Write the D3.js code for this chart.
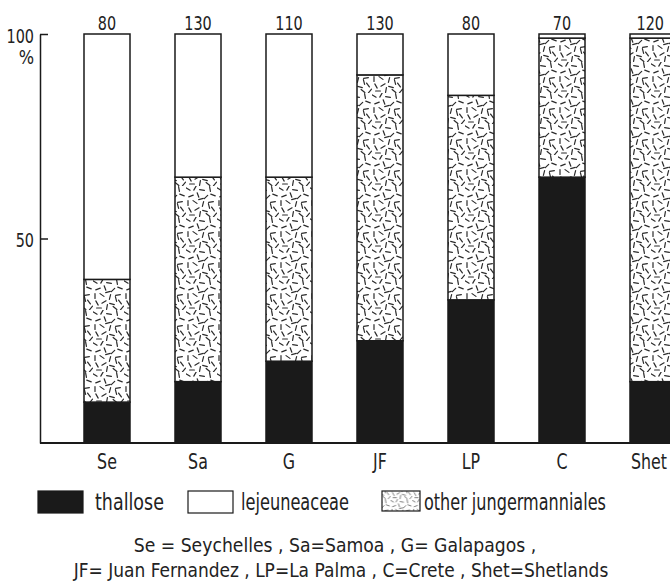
<!DOCTYPE html>
<html><head><meta charset="utf-8">
<script src="https://cdn.jsdelivr.net/npm/d3@7/dist/d3.min.js"></script>
<style>
html,body{margin:0;padding:0;background:#fff;}
svg text{font-family:"DejaVu Sans",sans-serif;fill:#222;}
</style></head>
<body><svg id="c" width="670" height="582"></svg>
<script>
const categories = ["Se","Sa","G","JF","LP","C","Shet"];
const sampleSizes = [80,130,110,130,80,70,120];
const thallose = [10,15,20,25,35,65,15];
const otherJung = [30,50,45,65,50,34,84];
const lejeuneaceae = [60,35,35,10,15,1,1];
const yTicks = [50,100];
const legendLabels = ["thallose","lejeuneaceae","other jungermanniales"];
const footnotes = ["Se = Seychelles  ,  Sa=Samoa  ,  G= Galapagos ,",
                   "JF= Juan Fernandez , LP=La Palma , C=Crete , Shet=Shetlands"];

const svg = d3.select("#c");
const ink = "#1a1a1a";

// condensed lettering: shrink the font, then stretch it back vertically.
// c = number (width factor) or {w: target width}
function tall(sel, F, c){
  sel.each(function(){
    const t = d3.select(this);
    t.attr("font-size", F);
    let k = c;
    if (typeof c === "object") k = c.w / this.getComputedTextLength();
    t.attr("font-size", F*k);
    const x0 = +(t.attr("x")||0), y0 = +(t.attr("y")||0);
    t.attr("transform", `translate(${x0},${y0}) scale(1,${1/k}) translate(${-x0},${-y0})`);
  });
}
// keep centred text inside the right edge
function keepInside(sel, maxX){
  sel.each(function(){
    const t = d3.select(this);
    const half = this.getComputedTextLength()/2;
    const cx = +t.attr("x");
    if (cx + half > maxX){
      const nx = maxX - half, y0 = +t.attr("y");
      const tr = t.attr("transform").replace(/translate\([^)]*\)/g, (m,i)=>m);
      t.attr("x", nx);
      const k = tr.match(/scale\(1,([^)]*)\)/)[1];
      t.attr("transform", `translate(${nx},${y0}) scale(1,${k}) translate(${-nx},${-y0})`);
    }
  });
}

// texture pattern for "other jungermanniales"
const dashes = [[2,3,30],[9,2,-60],[16,4,10],[24,3,80],[5,10,-20],[12,9,70],[20,11,-45],[27,9,20],
  [2,17,90],[9,16,35],[17,18,-75],[25,16,-10],[4,24,60],[11,23,-30],[19,25,15],[27,23,55],
  [6,29,0],[14,28,-80],[22,29,40],[29,29,-50],[15,13,-15],[23,20,75]];
const defs = svg.append("defs");
function makePattern(id, scale, col){
  const p = defs.append("pattern").attr("id",id).attr("patternUnits","userSpaceOnUse")
    .attr("width",31).attr("height",31).attr("patternTransform","scale("+scale+")");
  p.append("rect").attr("width",31).attr("height",31).attr("fill","#fff");
  const L = 2.4;
  p.selectAll("line").data(dashes).join("line")
    .attr("x1",d=>d[0]-L*Math.cos(d[2]*Math.PI/180)).attr("y1",d=>d[1]-L*Math.sin(d[2]*Math.PI/180))
    .attr("x2",d=>d[0]+L*Math.cos(d[2]*Math.PI/180)).attr("y2",d=>d[1]+L*Math.sin(d[2]*Math.PI/180))
    .attr("stroke",col).attr("stroke-width",1.2).attr("stroke-linecap","round");
}
makePattern("dots",1,"#2a2a2a");
makePattern("dots2",0.7,"#666");

const x = d3.scaleBand().domain(categories).range([39, 721]).paddingInner(0.4945).paddingOuter(0.4945);
const y = d3.scaleLinear().domain([0,100]).range([443, 34]);

// stacked data
const rows = categories.map((c,i)=>({cat:c, thallose:thallose[i], other:otherJung[i], lej:lejeuneaceae[i]}));
const stack = d3.stack().keys(["thallose","other","lej"])(rows);
const fills = {thallose:ink, other:"url(#dots)", lej:"#fff"};

const g = svg.append("g");
stack.forEach(layer=>{
  g.selectAll(null).data(layer).join("rect")
    .attr("x",d=>x(d.data.cat)).attr("width",x.bandwidth())
    .attr("y",d=>y(d[1])).attr("height",d=>y(d[0])-y(d[1]))
    .attr("fill",fills[layer.key]).attr("stroke",ink).attr("stroke-width",1.5);
});

// sample size labels
const nl = svg.selectAll(".n").data(categories).join("text")
  .attr("x",d=>x(d)+x.bandwidth()/2).attr("y",30)
  .attr("text-anchor","middle").text((d,i)=>sampleSizes[i]);
tall(nl,20,0.72);
keepInside(nl,664);

// y axis
const yAxis = d3.axisLeft(y).tickValues(yTicks).tickSizeInner(-8).tickSizeOuter(0).tickPadding(6);
const ya = svg.append("g").attr("transform","translate(40,0)").call(yAxis);
ya.select(".domain").attr("stroke",ink).attr("stroke-width",1.5);
ya.selectAll(".tick line").attr("stroke",ink).attr("stroke-width",1.5);
const yt = ya.selectAll(".tick text").attr("fill","#222")
  .style("font-family",'"DejaVu Sans",sans-serif').attr("dy",null).attr("y",8);
tall(yt,20,0.72);
const pct = svg.append("text").attr("x",34).attr("y",64).attr("text-anchor","end").text("%");
tall(pct,19,0.85);

// baseline
svg.append("line").attr("x1",40).attr("x2",670).attr("y1",y(0)).attr("y2",y(0))
  .attr("stroke",ink).attr("stroke-width",1.8);

// category labels
const cl = svg.selectAll(".cat").data(categories).join("text")
  .attr("x",d=>x(d)+x.bandwidth()/2).attr("y",469)
  .attr("text-anchor","middle").text(d=>d);
tall(cl,22,0.72);
keepInside(cl,667);

// legend
const leg = [{x:38,w:45,h:22,fill:ink,label:legendLabels[0],tx:95,tw:69},
             {x:188,w:45,h:22,fill:"#fff",label:legendLabels[1],tx:241,tw:108},
             {x:382,w:38,h:20,fill:"url(#dots2)",label:legendLabels[2],tx:424,tw:182}];
leg.forEach(l=>{
  svg.append("rect").attr("x",l.x).attr("y",491).attr("width",l.w).attr("height",l.h)
    .attr("fill",l.fill).attr("stroke",ink).attr("stroke-width",1.2);
  const t = svg.append("text").attr("x",l.tx).attr("y",510).text(l.label);
  tall(t,23,{w:l.tw});
});

// footnotes
const f1 = svg.append("text").attr("x",335).attr("y",552).attr("text-anchor","middle").text(footnotes[0]);
tall(f1,20,{w:403});
const f2 = svg.append("text").attr("x",341).attr("y",577).attr("text-anchor","middle").text(footnotes[1]);
tall(f2,20,{w:535});
</script></body></html>
